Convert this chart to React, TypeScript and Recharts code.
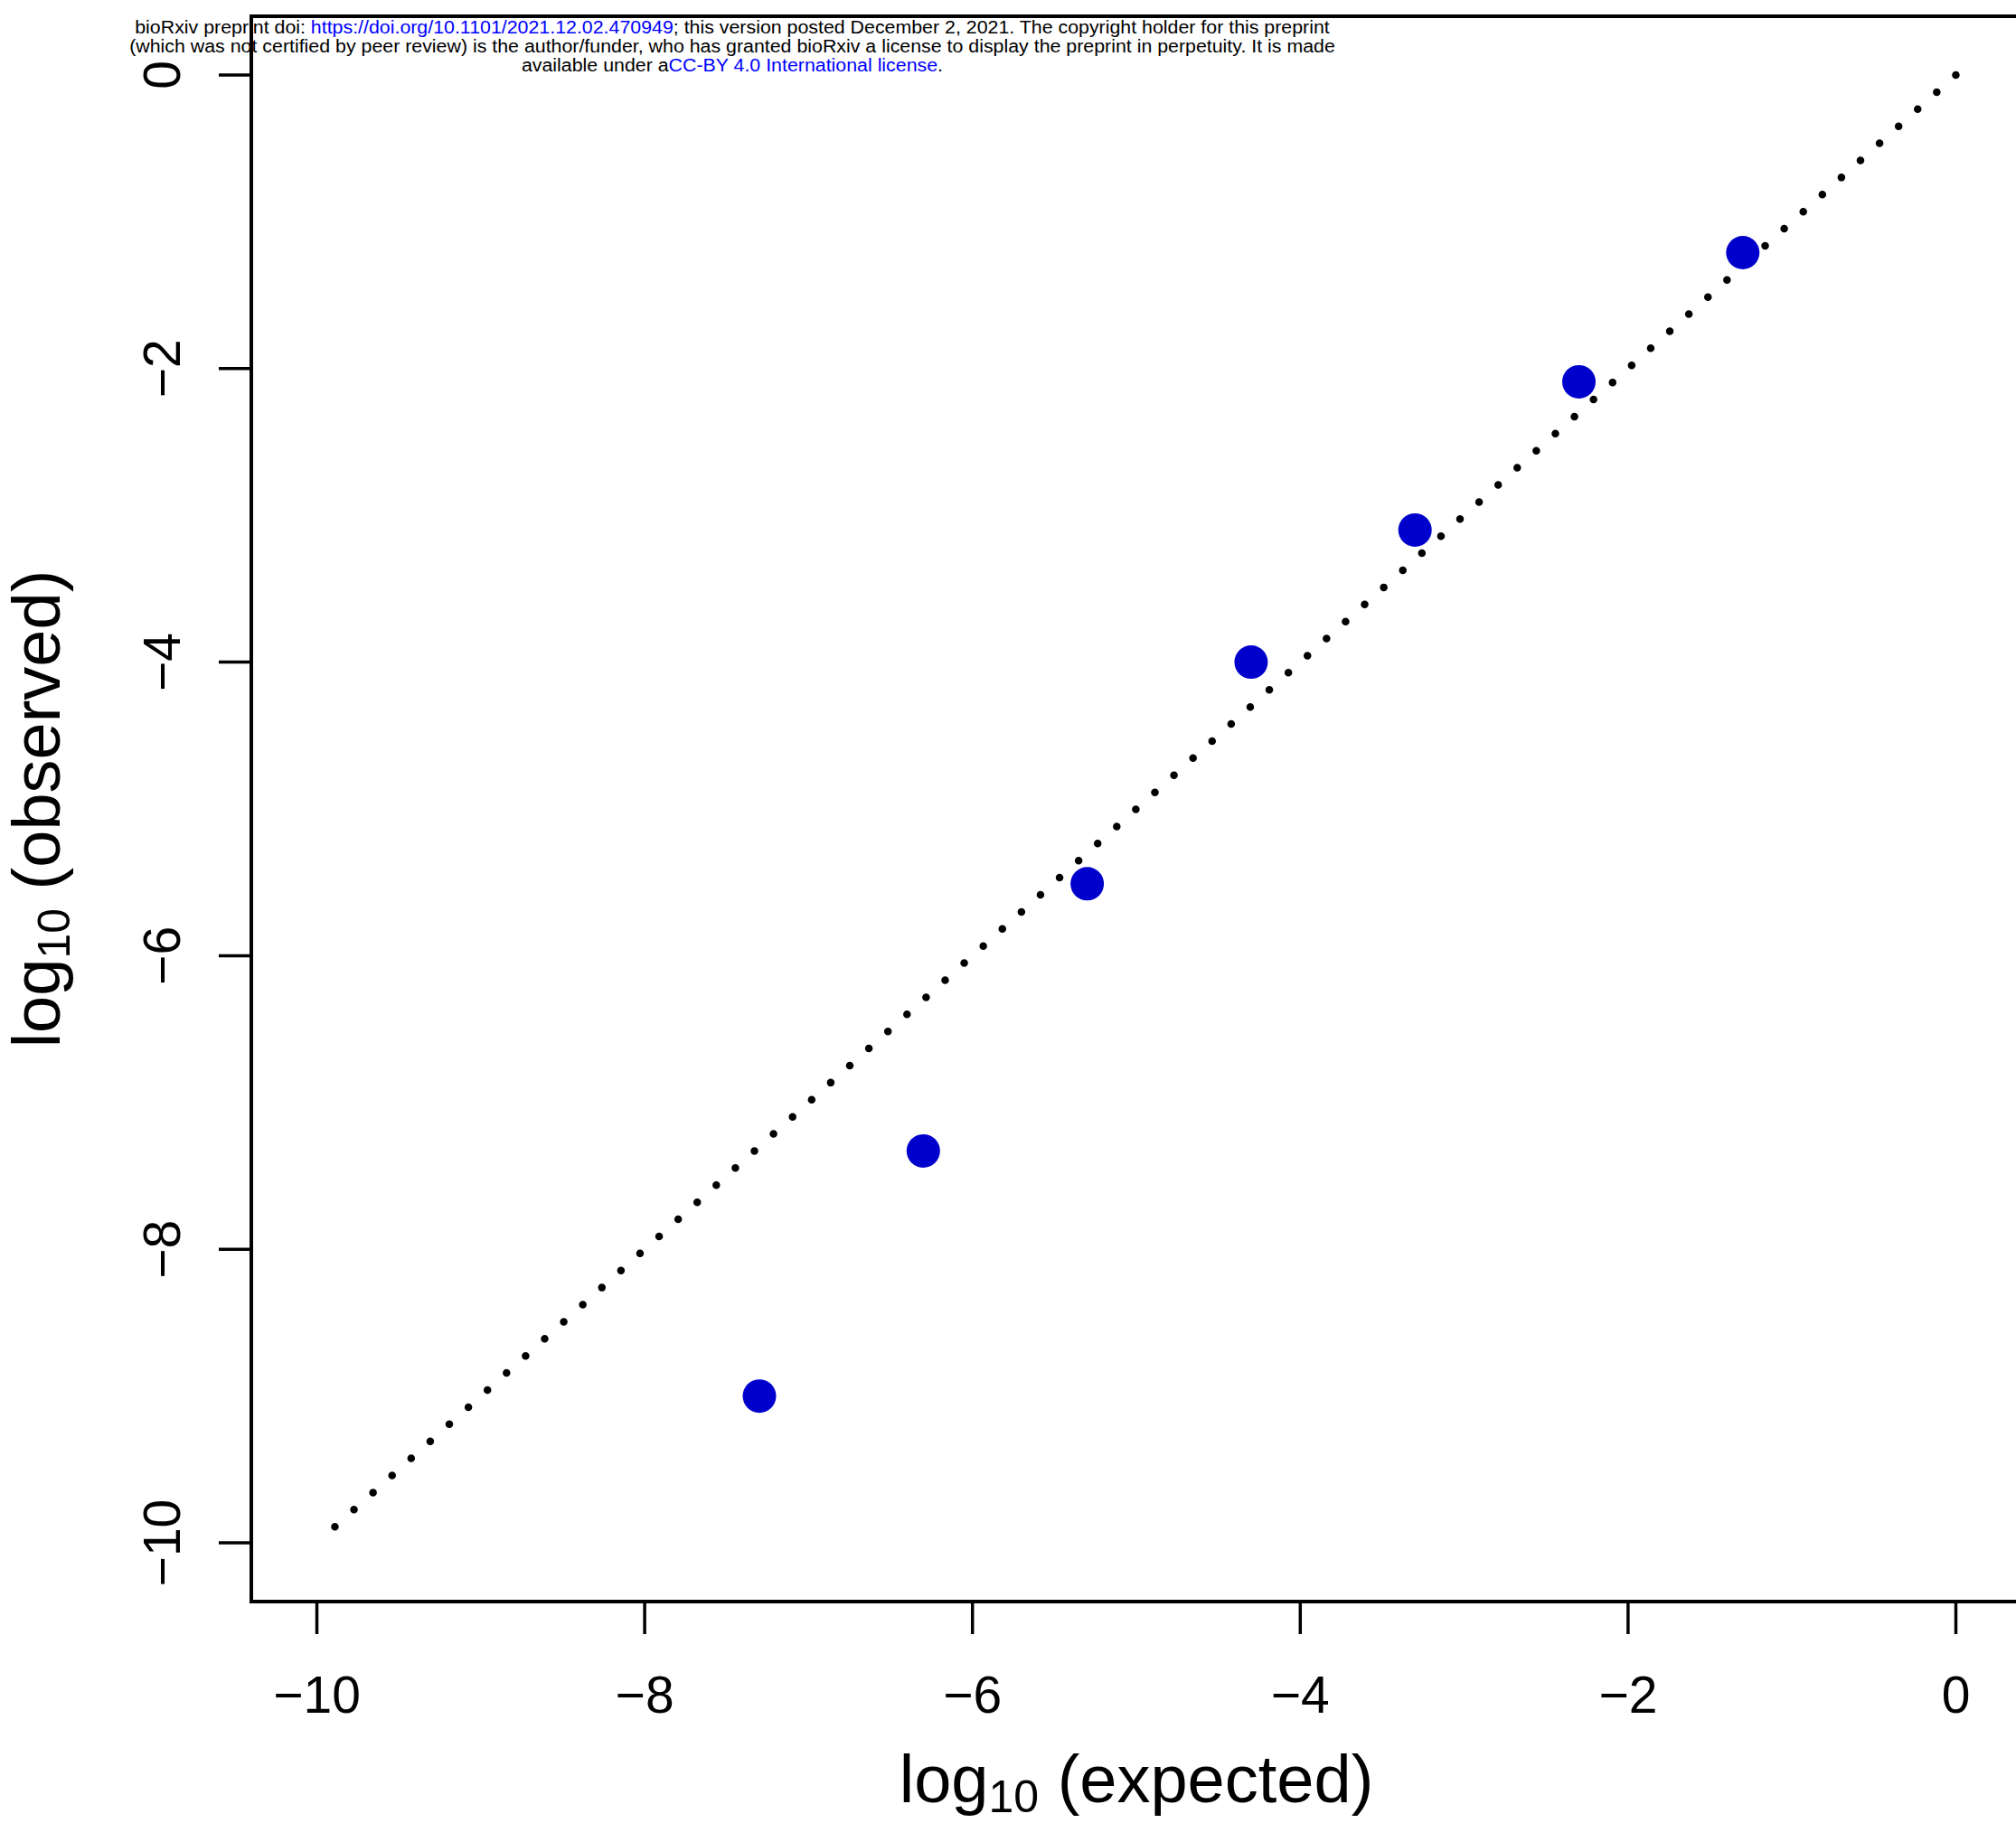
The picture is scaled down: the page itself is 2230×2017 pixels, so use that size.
import React from "react";
import { ComposedChart, Scatter, Line, XAxis, YAxis, ReferenceArea } from "recharts";

const FONT = "'Liberation Sans', Arial, Helvetica, sans-serif";

// QQ points
const expected = [-7.3, -6.3, -5.3, -4.3, -3.3, -2.3, -1.3];
const observed = [-9.0, -7.33, -5.51, -4.0, -3.1, -2.09, -1.21];
// y = x reference line ends
const diagonal = [-9.89, 0];
const xTicks = [-10, -8, -6, -4, -2, 0];
const yTicks = [-10, -8, -6, -4, -2, 0];
const axisRange = [-10.4, 0.4];

const points = expected.map((x, i) => ({ x, y: observed[i] }));
const diagonalData = diagonal.map((v) => ({ x: v, y: v }));

const fmt = (v: number) => (v < 0 ? "\u2212" + Math.abs(v) : String(v));

const XTick = (props: any) => {
  const { x, y, payload } = props;
  return (
    <text x={x} y={y + 87} textAnchor="middle" fontSize={57} fontFamily={FONT} fill="#000">
      {fmt(payload.value)}
    </text>
  );
};

const YTick = (props: any) => {
  const { x, y, payload } = props;
  const bx = x - 43;
  return (
    <text
      x={bx}
      y={y}
      transform={`rotate(-90 ${bx} ${y})`}
      textAnchor="middle"
      fontSize={57}
      fontFamily={FONT}
      fill="#000"
    >
      {fmt(payload.value)}
    </text>
  );
};

const XTitle = (props: any) => {
  const vb = props.viewBox;
  const cx = vb.x + vb.width / 2;
  return (
    <text x={cx} y={vb.y + 222} textAnchor="middle" fontSize={74} fontFamily={FONT} fill="#000">
      <tspan>log</tspan>
      <tspan fontSize={50} dy={11}>10</tspan>
      <tspan dy={-11}> (expected)</tspan>
    </text>
  );
};

const YTitle = (props: any) => {
  const vb = props.viewBox;
  const cy = vb.y + vb.height / 2;
  const bx = 66;
  return (
    <text
      x={bx}
      y={cy}
      transform={`rotate(-90 ${bx} ${cy})`}
      textAnchor="middle"
      fontSize={74}
      fontFamily={FONT}
      fill="#000"
    >
      <tspan>log</tspan>
      <tspan fontSize={50} dy={11}>10</tspan>
      <tspan dy={-11}> (observed)</tspan>
    </text>
  );
};

const Dot = (p: any) => <circle cx={p.cx} cy={p.cy} r={18.5} fill="#0000CD" />;

export default function App() {
  return (
    <div style={{ position: "relative", width: 2230, height: 2017, background: "#fff" }}>
      <style>{"body{margin:0;background:#fff}"}</style>
      <ComposedChart
        width={2230}
        height={2017}
        margin={{ top: 18, right: -6, bottom: 0, left: 0 }}
      >
        <XAxis
          type="number"
          dataKey="x"
          domain={axisRange}
          ticks={xTicks}
          allowDataOverflow
          height={245}
          axisLine={false}
          tickSize={36}
          tickMargin={0}
          tickLine={{ stroke: "#000", strokeWidth: 3.5 }}
          tick={<XTick />}
          label={{ content: <XTitle /> }}
        />
        <YAxis
          type="number"
          dataKey="y"
          domain={axisRange}
          ticks={yTicks}
          allowDataOverflow
          width={278}
          axisLine={false}
          tickSize={36}
          tickMargin={0}
          tickLine={{ stroke: "#000", strokeWidth: 3.5 }}
          tick={<YTick />}
          label={{ content: <YTitle /> }}
        />
        <ReferenceArea
          x1={axisRange[0]}
          x2={axisRange[1]}
          y1={axisRange[0]}
          y2={axisRange[1]}
          fill="none"
          fillOpacity={0}
          stroke="#000"
          strokeWidth={4}
          ifOverflow="visible"
        />
        <Line
          data={diagonalData}
          dataKey="y"
          type="linear"
          stroke="#000"
          strokeWidth={8.5}
          strokeDasharray="0 28.32"
          strokeLinecap="round"
          dot={false}
          activeDot={false}
          isAnimationActive={false}
        />
        <Scatter data={points} dataKey="y" shape={<Dot />} isAnimationActive={false} />
      </ComposedChart>
      <div
        style={{
          position: "absolute",
          left: 0,
          top: 20,
          width: 1620,
          textAlign: "center",
          fontFamily: FONT,
          fontSize: 19.5,
          lineHeight: "21px",
          color: "#000",
          transform: "scaleX(1.095)",
          transformOrigin: "810px 0",
          whiteSpace: "nowrap",
        }}
      >
        <div>
          bioRxiv preprint doi: <span style={{ color: "#0000FF" }}>https://doi.org/10.1101/2021.12.02.470949</span>; this
          version posted December 2, 2021. The copyright holder for this preprint
        </div>
        <div>
          (which was not certified by peer review) is the author/funder, who has granted bioRxiv a license to display the
          preprint in perpetuity. It is made
        </div>
        <div>
          available under a<span style={{ color: "#0000FF" }}>CC-BY 4.0 International license</span>.
        </div>
      </div>
    </div>
  );
}
